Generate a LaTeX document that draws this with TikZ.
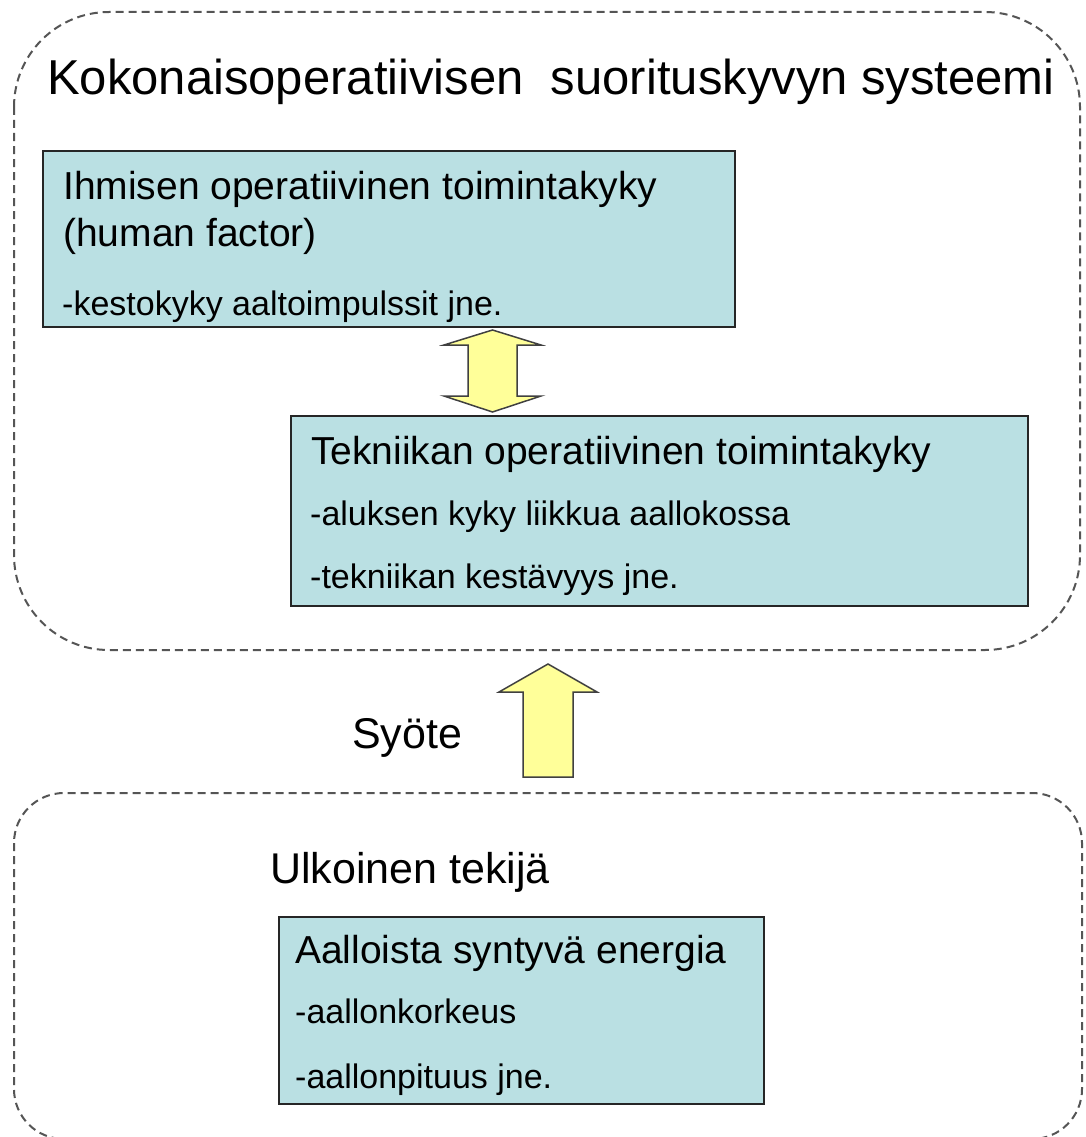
\documentclass[tikz,border=0pt]{standalone}
\usepackage{fontspec}
\setmainfont{Liberation Sans}
\definecolor{boxfill}{RGB}{186,224,227}
\definecolor{arrowfill}{RGB}{255,255,153}
\definecolor{dashcol}{RGB}{85,85,85}
\begin{document}
\begin{tikzpicture}[x=1pt,y=-1pt,
  panel/.style={draw=dashcol, line width=2pt, dash pattern=on 8pt off 5pt},
  infobox/.style={draw=black!85, line width=2.2pt, fill=boxfill, anchor=north west, inner sep=0pt},
  txt/.style={anchor=base west, inner sep=0pt},
  bigtitle/.style={txt, font=\fontsize{49}{53}\selectfont},
  midtitle/.style={txt, font=\fontsize{43}{47}\selectfont},
  boxtitle/.style={txt, font=\fontsize{39}{43}\selectfont},
  boxline/.style={txt, font=\fontsize{34}{38}\selectfont},
  blockarrow/.style={draw=black!75, line width=1.5pt, fill=arrowfill, line join=miter}
]
\useasboundingbox (0,0) rectangle (1085,1137);
\fill[white] (0,0) rectangle (1085,1137);

% dashed panels
\draw[panel, rounded corners=95pt] (14,12) rectangle (1080,650);
\draw[panel, rounded corners=50pt] (14,793) rectangle (1082,1139);

% titles
\node[bigtitle] (systitle) at (47,95) {Kokonaisoperatiivisen\ \ suorituskyvyn systeemi};
\node[midtitle] (syote) at (352,748) {Syöte};
\node[midtitle] (ulk) at (270,883) {Ulkoinen tekijä};

% boxes
\node[infobox, minimum width=692pt, minimum height=176pt] (human) at (42,150) {};
\node[infobox, minimum width=737pt, minimum height=190pt] (tech) at (290,415) {};
\node[infobox, minimum width=485pt, minimum height=187pt] (wave) at (278,916) {};

% box texts
\node[boxtitle] (h1) at (63,199) {Ihmisen operatiivinen toimintakyky};
\node[boxtitle] (h2) at (63,246) {(human factor)};
\node[boxline] (h3) at (62,315) {-kestokyky aaltoimpulssit jne.};

\node[boxtitle] (t1) at (311,464) {Tekniikan operatiivinen toimintakyky};
\node[boxline] (t2) at (310,525) {-aluksen kyky liikkua aallokossa};
\node[boxline] (t3) at (310,588) {-tekniikan kestävyys jne.};

\node[boxtitle] (w1) at (295,963) {Aalloista syntyvä energia};
\node[boxline] (w2) at (295,1023) {-aallonkorkeus};
\node[boxline] (w3) at (295,1088) {-aallonpituus jne.};

% block arrows
\draw[blockarrow] (492.5,330) -- (541,345) -- (517,345) -- (517,396) -- (541,396)
  -- (492.5,412) -- (444,396) -- (468,396) -- (468,345) -- (444,345) -- cycle;
\draw[blockarrow] (548,664) -- (597,692) -- (573,692) -- (573,777) -- (523,777)
  -- (523,692) -- (499,692) -- cycle;
\end{tikzpicture}
\end{document}
